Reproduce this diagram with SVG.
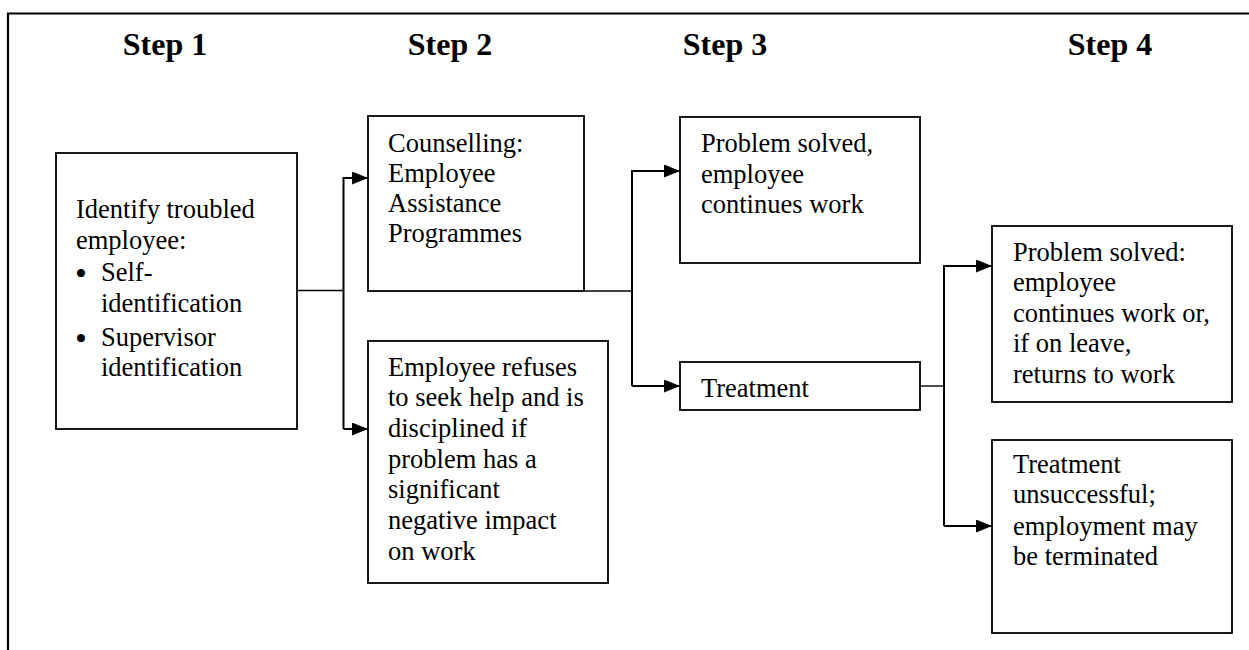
<svg xmlns="http://www.w3.org/2000/svg" width="1249" height="650" viewBox="0 0 1249 650">
<style>
.box{fill:#fff;stroke:#000;stroke-width:1.8}
.t{font-family:"Liberation Serif","Times New Roman",serif;font-size:26.5px;fill:#000}
.b{font-family:"Liberation Serif","Times New Roman",serif;font-size:34px;fill:#000}
.h{font-family:"Liberation Serif","Times New Roman",serif;font-size:32px;font-weight:bold;fill:#000;text-anchor:middle}
.ln{fill:none;stroke:#000;stroke-width:1.4}
.ar{fill:none;stroke:#000;stroke-width:2}
</style>
<defs>
<marker id="ah" viewBox="0 0 16 13" refX="16" refY="6.5" markerWidth="16" markerHeight="13" markerUnits="userSpaceOnUse" orient="auto">
<path d="M0,0 L16,6.5 L0,13 Z" fill="#000"/>
</marker>
</defs>
<rect width="1249" height="650" fill="#fff"/>
<g id="frame">
<path d="M1249 13.5 H8 V650" fill="none" stroke="#000" stroke-width="2.2"/>
</g>
<g id="headers">
<text class="h" x="165" y="55">Step 1</text>
<text class="h" x="450" y="55">Step 2</text>
<text class="h" x="725" y="55">Step 3</text>
<text class="h" x="1110" y="55">Step 4</text>
</g>
<g id="connectors">
<path class="ln" d="M297 290.5 H343.5"/>
<path class="ar" d="M343.5 429 V178 H368" marker-end="url(#ah)"/>
<path class="ar" d="M343.5 429 H368" marker-end="url(#ah)"/>
<path class="ln" d="M584 291 H632"/>
<path class="ar" d="M632 386 V171 H680" marker-end="url(#ah)"/>
<path class="ar" d="M632 386 H680" marker-end="url(#ah)"/>
<path class="ln" d="M920 386 H944"/>
<path class="ar" d="M944 526 V266 H992" marker-end="url(#ah)"/>
<path class="ar" d="M944 526 H992" marker-end="url(#ah)"/>
</g>
<g id="node-identify">
<rect class="box" x="56" y="153" width="241" height="276"/>
<text class="t" x="76" y="218">Identify troubled</text>
<text class="t" x="76" y="249">employee:</text>
<text class="b" x="75" y="284.5">•</text>
<text class="t" x="101" y="281">Self-</text>
<text class="t" x="101" y="312">identification</text>
<text class="b" x="75" y="349.5">•</text>
<text class="t" x="101" y="346">Supervisor</text>
<text class="t" x="101" y="376">identification</text>
</g>
<g id="node-counselling">
<rect class="box" x="368" y="116" width="216" height="175"/>
<text class="t" x="388" y="152">Counselling:</text>
<text class="t" x="388" y="182">Employee</text>
<text class="t" x="388" y="212">Assistance</text>
<text class="t" x="388" y="242">Programmes</text>
</g>
<g id="node-refuses">
<rect class="box" x="368" y="341" width="240" height="242"/>
<text class="t" x="388" y="376">Employee refuses</text>
<text class="t" x="388" y="406">to seek help and is</text>
<text class="t" x="388" y="437">disciplined if</text>
<text class="t" x="388" y="468">problem has a</text>
<text class="t" x="388" y="498">significant</text>
<text class="t" x="388" y="529">negative impact</text>
<text class="t" x="388" y="560">on work</text>
</g>
<g id="node-solved1">
<rect class="box" x="680" y="117" width="240" height="146"/>
<text class="t" x="701" y="152">Problem solved,</text>
<text class="t" x="701" y="183">employee</text>
<text class="t" x="701" y="213">continues work</text>
</g>
<g id="node-treatment">
<rect class="box" x="680" y="362" width="240" height="48"/>
<text class="t" x="701" y="397">Treatment</text>
</g>
<g id="node-solved2">
<rect class="box" x="992" y="226" width="240" height="176"/>
<text class="t" x="1013" y="261">Problem solved:</text>
<text class="t" x="1013" y="291">employee</text>
<text class="t" x="1013" y="322">continues work or,</text>
<text class="t" x="1013" y="352">if on leave,</text>
<text class="t" x="1013" y="383">returns to work</text>
</g>
<g id="node-unsuccessful">
<rect class="box" x="992" y="440" width="240" height="193"/>
<text class="t" x="1013" y="473">Treatment</text>
<text class="t" x="1013" y="503">unsuccessful;</text>
<text class="t" x="1013" y="535">employment may</text>
<text class="t" x="1013" y="565">be terminated</text>
</g>
</svg>
